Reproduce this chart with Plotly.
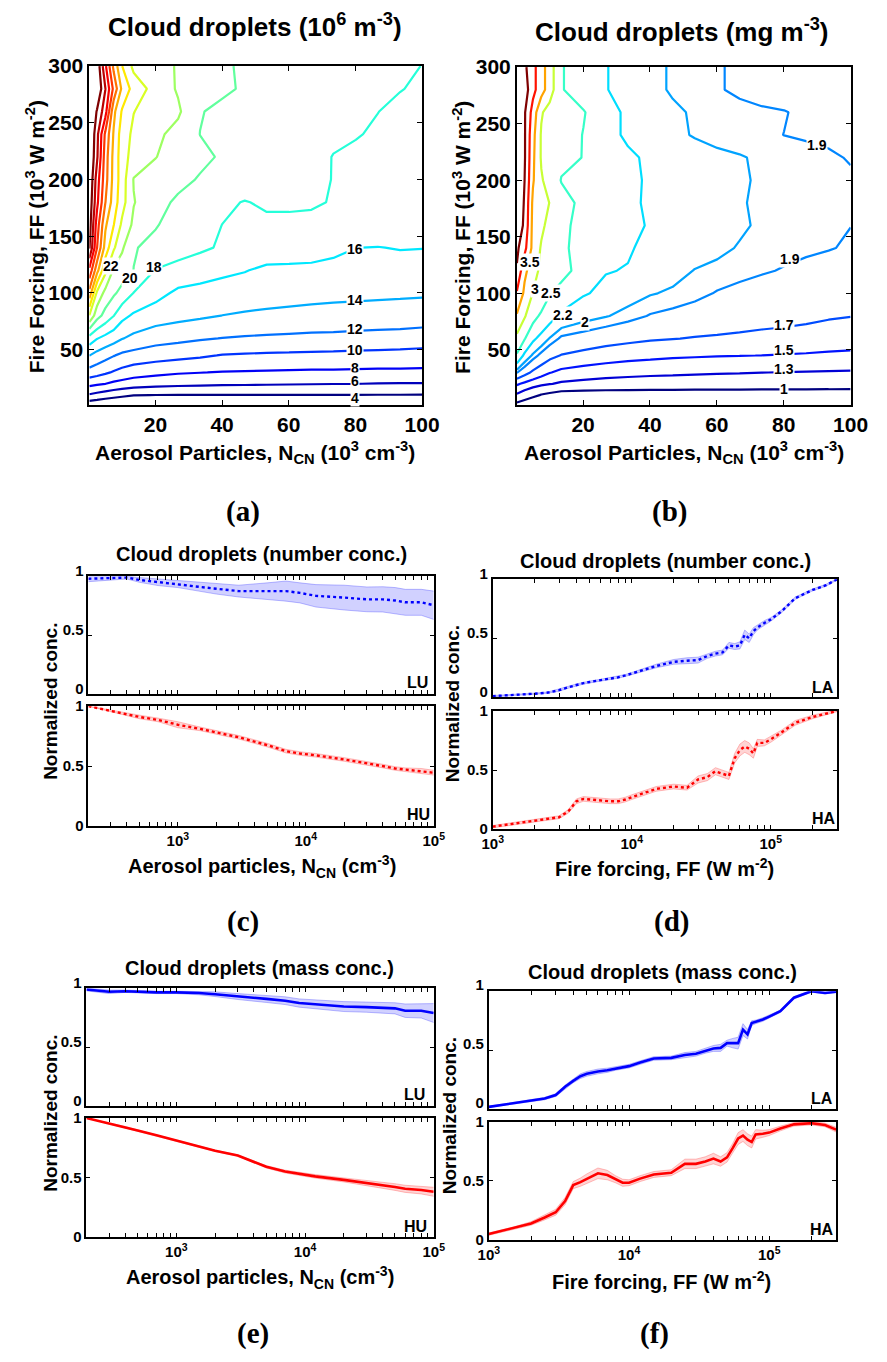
import plotly.graph_objects as go

W, H = 887, 1362

# ---------------- data: contour grids (x: N_CN in 10^3 cm^-3, y: FF in 10^3 W m^-2) ----------------
X_CN = [0.2, 2.5, 5, 7.5, 10, 13.5, 20.1, 26.8, 33.4, 40.1, 46.8, 53.4, 60.1, 66.8, 73.4, 80.1, 86.7, 93.4, 100]
Y_FF = [1, 10, 20, 30, 45, 60, 80, 100, 120, 140, 160, 180, 200, 220, 240, 260, 280, 300]

Z_NUM = [
    [2.6, 2.4, 2.2, 2.0, 1.9, 1.8, 1.8, 1.8, 1.8, 1.8, 1.8, 1.8, 1.8, 1.8, 1.8, 1.8, 1.8, 1.8, 1.8],
    [5.8, 5.4, 5.0, 4.7, 4.4, 4.05, 3.98, 3.97, 3.97, 3.96, 3.96, 3.96, 3.95, 3.95, 3.95, 3.95, 3.94, 3.94, 3.93],
    [8.6, 8.3, 8.02, 7.6, 7.3, 7.0, 6.7, 6.5, 6.4, 6.3, 6.25, 6.2, 6.15, 6.1, 6.05, 6.02, 5.95, 5.9, 5.9],
    [11.2, 10.8, 10.3, 9.8, 9.4, 8.9, 8.5, 8.2, 8.05, 7.9, 7.85, 7.8, 7.75, 7.7, 7.7, 7.65, 7.6, 7.6, 7.55],
    [14.05, 13.3, 12.7, 12.1, 11.6, 11.3, 10.9, 10.6, 10.3, 9.9, 9.8, 9.7, 9.65, 9.6, 9.55, 9.5, 9.45, 9.4, 9.35],
    [17.2, 16.1, 15.4, 14.8, 14.1, 13.5, 12.8, 12.5, 12.2, 11.95, 11.8, 11.7, 11.6, 11.5, 11.45, 11.3, 11.2, 11.1, 10.9],
    [23.9, 20.8, 19.3, 18.05, 16.6, 15.7, 15.0, 14.6, 14.3, 13.98, 13.8, 13.7, 13.6, 13.5, 13.45, 13.4, 13.35, 13.3, 13.2],
    [29.3, 23.6, 21.4, 20.3, 19.4, 17.95, 16.7, 15.6, 15.3, 15.0, 14.9, 14.7, 14.6, 14.5, 14.4, 14.35, 14.3, 14.25, 14.2],
    [33.5, 28.7, 24.5, 21.7, 21.0, 19.98, 17.9, 17.4, 17.0, 16.5, 16.1, 15.6, 15.6, 15.6, 15.4, 15.3, 15.2, 15.2, 15.1],
    [38.2, 32.05, 27.2, 24.3, 22.3, 20.1, 19.6, 18.8, 18.3, 17.8, 17.5, 17.2, 17.0, 16.8, 16.5, 16.02, 15.95, 16.1, 16.05],
    [39.0, 33.0, 28.3, 26.05, 23.6, 21.6, 20.1, 19.4, 18.7, 17.98, 17.6, 17.6, 17.6, 17.6, 17.5, 17.4, 17.3, 17.2, 17.1],
    [39.5, 34.5, 30.05, 27.0, 24.8, 22.1, 20.6, 19.7, 19.0, 18.4, 17.9, 18.3, 18.3, 18.2, 17.9, 17.7, 17.5, 17.35, 17.2],
    [40.0, 35.0, 30.8, 27.3, 25.0, 21.9, 21.3, 20.5, 19.85, 19.6, 19.3, 19.0, 18.7, 18.4, 17.95, 17.7, 17.5, 17.3, 17.1],
    [40.3, 36.3, 31.0, 27.4, 24.9, 23.2, 22.05, 21.2, 20.4, 19.8, 19.4, 19.1, 18.8, 18.5, 17.95, 17.7, 17.5, 17.3, 17.1],
    [40.5, 36.6, 31.6, 27.8, 25.0, 23.6, 22.4, 21.4, 19.98, 19.6, 19.3, 19.0, 18.7, 18.5, 18.3, 18.1, 17.8, 17.5, 17.3],
    [40.7, 37.8, 34.8, 28.5, 25.8, 24.05, 23.0, 22.3, 20.1, 19.6, 19.3, 19.0, 18.8, 18.6, 18.4, 18.2, 18.02, 17.7, 17.5],
    [41.5, 40.0, 36.05, 31.5, 27.6, 25.2, 23.2, 21.8, 21.0, 20.3, 19.8, 19.4, 19.1, 18.8, 18.6, 18.4, 18.2, 18.05, 17.8],
    [42.0, 39.5, 34.4, 29.5, 26.05, 23.5, 22.7, 21.85, 21.0, 20.2, 19.8, 19.5, 19.3, 19.1, 18.9, 18.7, 18.5, 18.25, 17.98],
]

Z_MASS = [
    [0.9, 0.8, 0.7, 0.65, 0.6, 0.55, 0.55, 0.55, 0.55, 0.55, 0.55, 0.55, 0.55, 0.55, 0.55, 0.55, 0.55, 0.55, 0.55],
    [1.27, 1.18, 1.08, 0.98, 0.93, 0.86, 0.84, 0.835, 0.83, 0.83, 0.83, 0.825, 0.825, 0.82, 0.82, 0.82, 0.815, 0.815, 0.81],
    [1.53, 1.46, 1.4, 1.35, 1.31, 1.27, 1.24, 1.22, 1.21, 1.2, 1.2, 1.19, 1.19, 1.185, 1.18, 1.18, 1.175, 1.17, 1.165],
    [1.91, 1.78, 1.66, 1.58, 1.51, 1.45, 1.41, 1.38, 1.36, 1.345, 1.335, 1.325, 1.315, 1.31, 1.302, 1.295, 1.29, 1.285, 1.28],
    [2.45, 2.14, 1.97, 1.85, 1.76, 1.69, 1.64, 1.6, 1.57, 1.55, 1.53, 1.52, 1.51, 1.505, 1.498, 1.49, 1.48, 1.47, 1.46],
    [2.88, 2.52, 2.25, 2.12, 1.99, 1.87, 1.83, 1.78, 1.75, 1.72, 1.705, 1.69, 1.68, 1.67, 1.66, 1.65, 1.63, 1.6, 1.59],
    [3.45, 3.05, 2.62, 2.44, 2.31, 2.15, 2.06, 2.01, 1.95, 1.89, 1.86, 1.83, 1.8, 1.78, 1.76, 1.75, 1.74, 1.72, 1.705],
    [3.95, 3.4, 2.98, 2.75, 2.52, 2.4, 2.22, 2.15, 2.07, 2.01, 1.98, 1.94, 1.89, 1.86, 1.83, 1.8, 1.79, 1.78, 1.77],
    [4.45, 3.6, 3.25, 2.85, 2.7, 2.6, 2.38, 2.21, 2.19, 2.1, 2.05, 1.995, 1.97, 1.94, 1.915, 1.89, 1.87, 1.86, 1.85],
    [4.6, 4.15, 3.35, 2.95, 2.8, 2.55, 2.4, 2.3, 2.22, 2.15, 2.1, 2.06, 2.03, 1.99, 1.96, 1.94, 1.92, 1.905, 1.89],
    [4.85, 4.4, 3.35, 3.1, 2.85, 2.55, 2.43, 2.33, 2.26, 2.18, 2.12, 2.08, 2.05, 2.02, 1.98, 1.95, 1.93, 1.92, 1.901],
    [4.9, 4.45, 3.4, 3.18, 2.99, 2.65, 2.4, 2.3, 2.24, 2.17, 2.12, 2.08, 2.05, 2.01, 1.98, 1.96, 1.95, 1.94, 1.93],
    [4.85, 4.5, 3.55, 3.05, 2.8, 2.48, 2.4, 2.32, 2.25, 2.17, 2.12, 2.08, 2.05, 2.02, 1.98, 1.96, 1.94, 1.93, 1.92],
    [4.85, 4.55, 3.6, 2.95, 2.8, 2.6, 2.49, 2.35, 2.25, 2.15, 2.1, 2.06, 2.03, 2.01, 1.98, 1.96, 1.94, 1.92, 1.89],
    [4.9, 4.55, 3.65, 2.95, 2.8, 2.65, 2.49, 2.3, 2.15, 2.08, 2.03, 1.99, 1.96, 1.94, 1.92, 1.899, 1.885, 1.87, 1.86],
    [4.9, 4.55, 3.8, 3.05, 2.8, 2.65, 2.52, 2.3, 2.15, 2.08, 2.03, 1.98, 1.95, 1.93, 1.915, 1.905, 1.88, 1.86, 1.85],
    [5.1, 4.75, 4.15, 3.7, 3.25, 2.52, 2.35, 2.21, 2.12, 2.05, 1.98, 1.94, 1.91, 1.88, 1.86, 1.85, 1.84, 1.83, 1.82],
    [5.0, 4.6, 4.15, 3.7, 3.25, 2.52, 2.35, 2.21, 2.12, 2.05, 1.98, 1.94, 1.91, 1.88, 1.86, 1.85, 1.84, 1.83, 1.82],
]

LEVELS_NUM = [4, 6, 8, 10, 12, 14, 16, 18, 20, 22, 24, 26, 28, 30, 32, 34, 36, 38]
LEVELS_MASS = [1.0, 1.3, 1.5, 1.7, 1.9, 2.0, 2.2, 2.5, 3.0, 3.5, 4.0, 4.5]

LABELS_NUM = [("22", 6.7, 124), ("20", 12.5, 113), ("18", 19.5, 123), ("16", 80, 139),
              ("14", 80, 94), ("12", 80, 68), ("10", 80, 50), ("8", 80, 34), ("6", 80, 22), ("4", 80, 7)]
LABELS_MASS = [("3.5", 4, 128), ("3", 5.5, 104), ("2.5", 10.5, 100), ("2.2", 14, 81), ("2", 20.6, 75),
               ("1.9", 82, 130), ("1.9", 90, 231), ("1.7", 80, 72), ("1.5", 80, 50), ("1.3", 80, 33), ("1", 80, 15)]

# ---------------- data: normalized curves ----------------
NCN = [200, 300, 400, 500, 700, 1000, 1500, 2000, 3000, 5000, 7000, 9000, 12000, 20000, 30000,
       40000, 50000, 60000, 80000, 100000]
FF = [1000, 1500, 2000, 2500, 3000, 3500, 4000, 4500, 5000, 6000, 7000, 8000, 9000, 10000, 12000,
      15000, 20000, 25000, 30000, 35000, 40000, 45000, 50000, 55000, 60000, 65000, 70000, 75000,
      80000, 90000, 100000, 120000, 150000, 200000, 250000, 300000]

NUM_LU = [0.98, 0.985, 0.99, 0.97, 0.95, 0.935, 0.91, 0.895, 0.875, 0.875, 0.875, 0.86, 0.835, 0.82,
          0.805, 0.805, 0.795, 0.78, 0.78, 0.755]
NUM_LU_SD = [0.025, 0.015, 0.012, 0.02, 0.028, 0.03, 0.04, 0.045, 0.05, 0.07, 0.085, 0.085, 0.095,
             0.105, 0.105, 0.107, 0.11, 0.11, 0.11, 0.12]
NUM_HU = [1.0, 0.96, 0.935, 0.91, 0.885, 0.845, 0.81, 0.78, 0.74, 0.675, 0.625, 0.605, 0.59, 0.555,
          0.525, 0.5, 0.48, 0.47, 0.46, 0.445]
NUM_HU_SD = [0.0, 0.005, 0.01, 0.015, 0.015, 0.025, 0.015, 0.015, 0.015, 0.015, 0.015, 0.015, 0.015,
             0.015, 0.015, 0.015, 0.015, 0.015, 0.02, 0.02]

NUM_LA = [0.01, 0.02, 0.03, 0.04, 0.06, 0.085, 0.105, 0.12, 0.13, 0.145, 0.16, 0.17, 0.185, 0.2, 0.23,
          0.265, 0.3, 0.31, 0.315, 0.35, 0.37, 0.38, 0.44, 0.43, 0.44, 0.53, 0.5, 0.56, 0.59, 0.63, 0.66,
          0.73, 0.84, 0.91, 0.95, 1.0]
NUM_LA_SD = [0.005, 0.005, 0.005, 0.005, 0.008, 0.008, 0.008, 0.008, 0.008, 0.008, 0.008, 0.008, 0.008,
             0.01, 0.012, 0.015, 0.02, 0.025, 0.025, 0.02, 0.02, 0.02, 0.025, 0.025, 0.03, 0.04, 0.035,
             0.03, 0.02, 0.02, 0.015, 0.012, 0.01, 0.008, 0.008, 0.005]
NUM_HA = [0.02, 0.05, 0.07, 0.085, 0.1, 0.15, 0.235, 0.255, 0.25, 0.245, 0.235, 0.235, 0.25, 0.27, 0.3,
          0.34, 0.36, 0.35, 0.42, 0.44, 0.49, 0.47, 0.45, 0.6, 0.67, 0.7, 0.68, 0.64, 0.73, 0.73, 0.76,
          0.82, 0.9, 0.95, 0.98, 1.0]
NUM_HA_SD = [0.01, 0.01, 0.01, 0.01, 0.012, 0.015, 0.02, 0.02, 0.02, 0.02, 0.02, 0.02, 0.02, 0.02, 0.02,
             0.02, 0.02, 0.02, 0.03, 0.03, 0.03, 0.03, 0.03, 0.04, 0.05, 0.05, 0.05, 0.04, 0.03, 0.025,
             0.025, 0.02, 0.02, 0.015, 0.01, 0.005]

MASS_LU = [0.99, 0.97, 0.975, 0.97, 0.965, 0.965, 0.96, 0.95, 0.93, 0.91, 0.895, 0.875, 0.865, 0.845,
           0.84, 0.835, 0.83, 0.81, 0.81, 0.79]
MASS_LU_SD = [0.012, 0.015, 0.01, 0.01, 0.01, 0.01, 0.015, 0.02, 0.025, 0.03, 0.033, 0.035, 0.037, 0.042,
              0.043, 0.045, 0.047, 0.057, 0.062, 0.08]
MASS_HU = [1.0, 0.955, 0.925, 0.895, 0.855, 0.81, 0.76, 0.725, 0.685, 0.59, 0.55, 0.53, 0.51, 0.48,
           0.455, 0.435, 0.42, 0.405, 0.395, 0.38]
MASS_HU_SD = [0.0, 0.005, 0.005, 0.005, 0.005, 0.005, 0.005, 0.005, 0.005, 0.01, 0.012, 0.015, 0.015,
              0.017, 0.022, 0.027, 0.028, 0.03, 0.033, 0.038]

MASS_LA = [0.02, 0.05, 0.07, 0.09, 0.12, 0.19, 0.24, 0.28, 0.3, 0.32, 0.33, 0.345, 0.355, 0.365, 0.395,
           0.43, 0.435, 0.46, 0.47, 0.495, 0.515, 0.52, 0.56, 0.56, 0.56, 0.675, 0.635, 0.73, 0.74, 0.76,
           0.785, 0.83, 0.945, 1.0, 0.985, 0.995]
MASS_LA_SD = [0.005, 0.008, 0.01, 0.01, 0.012, 0.015, 0.015, 0.02, 0.02, 0.02, 0.018, 0.015, 0.015, 0.015,
              0.015, 0.015, 0.015, 0.02, 0.02, 0.02, 0.025, 0.03, 0.025, 0.04, 0.05, 0.05, 0.04, 0.02,
              0.015, 0.015, 0.012, 0.01, 0.01, 0.008, 0.008, 0.005]
MASS_HA = [0.05, 0.1, 0.14, 0.19, 0.235, 0.33, 0.465, 0.49, 0.52, 0.565, 0.55, 0.515, 0.485, 0.485, 0.52,
           0.555, 0.57, 0.645, 0.645, 0.665, 0.69, 0.665, 0.7, 0.78, 0.86, 0.885, 0.85, 0.83, 0.895,
           0.9, 0.91, 0.945, 0.98, 0.99, 0.975, 0.935]
MASS_HA_SD = [0.01, 0.01, 0.015, 0.02, 0.025, 0.03, 0.03, 0.035, 0.04, 0.045, 0.04, 0.03, 0.03, 0.025,
              0.025, 0.025, 0.025, 0.04, 0.04, 0.04, 0.045, 0.04, 0.04, 0.04, 0.05, 0.05, 0.05, 0.05,
              0.04, 0.03, 0.025, 0.02, 0.015, 0.015, 0.015, 0.02]

# ---------------- helpers ----------------
FONT = "Liberation Sans, Arial, sans-serif"


def jet(t):
    t = max(0.0, min(1.0, t))
    r = min(1.0, max(0.0, 1.5 - abs(4 * t - 3)))
    g = min(1.0, max(0.0, 1.5 - abs(4 * t - 2)))
    b = min(1.0, max(0.0, 1.5 - abs(4 * t - 1)))
    return f"rgb({int(r * 255)},{int(g * 255)},{int(b * 255)})"


def dx(l, r):
    return [l / W, r / W]


def dy(t, b):
    return [1 - b / H, 1 - t / H]


fig = go.Figure()

# contour panels
for lv in LEVELS_NUM:
    fig.add_trace(go.Contour(
        x=X_CN, y=Y_FF, z=Z_NUM, xaxis="x", yaxis="y", autocontour=False,
        contours=dict(start=lv, end=lv, size=1, coloring="none"),
        line=dict(color=jet((lv - LEVELS_NUM[0]) / (LEVELS_NUM[-1] - LEVELS_NUM[0])), width=2.2, smoothing=0),
        showscale=False, hoverinfo="skip"))
for lv in LEVELS_MASS:
    fig.add_trace(go.Contour(
        x=X_CN, y=Y_FF, z=Z_MASS, xaxis="x2", yaxis="y2", autocontour=False,
        contours=dict(start=lv, end=lv, size=1, coloring="none"),
        line=dict(color=jet((lv - LEVELS_MASS[0]) / (LEVELS_MASS[-1] - LEVELS_MASS[0])), width=2.2, smoothing=0),
        showscale=False, hoverinfo="skip"))


def add_series(xs, mean, sd, color, band, edge, dash, xa, ya):
    lo = [m - s for m, s in zip(mean, sd)]
    hi = [m + s for m, s in zip(mean, sd)]
    fig.add_trace(go.Scatter(x=xs, y=lo, mode="lines", line=dict(width=0.8, color=edge),
                             xaxis=xa, yaxis=ya, showlegend=False, hoverinfo="skip"))
    fig.add_trace(go.Scatter(x=xs, y=hi, mode="lines", line=dict(width=0.8, color=edge),
                             fill="tonexty", fillcolor=band,
                             xaxis=xa, yaxis=ya, showlegend=False, hoverinfo="skip"))
    fig.add_trace(go.Scatter(x=xs, y=mean, mode="lines",
                             line=dict(color=color, width=2.6 if dash == "solid" else 2.4, dash=dash),
                             xaxis=xa, yaxis=ya, showlegend=False, hoverinfo="skip"))


BLUE, BLUE_BAND, BLUE_EDGE = "rgb(0,0,255)", "rgba(70,70,255,0.25)", "rgba(70,70,255,0.45)"
RED, RED_BAND, RED_EDGE = "rgb(255,0,0)", "rgba(255,60,60,0.22)", "rgba(255,60,60,0.4)"

add_series(NCN, NUM_LU, NUM_LU_SD, BLUE, BLUE_BAND, BLUE_EDGE, "dot", "x3", "y3")
add_series(NCN, NUM_HU, NUM_HU_SD, RED, RED_BAND, RED_EDGE, "dot", "x4", "y4")
add_series(FF, NUM_LA, NUM_LA_SD, BLUE, BLUE_BAND, BLUE_EDGE, "dot", "x5", "y5")
add_series(FF, NUM_HA, NUM_HA_SD, RED, RED_BAND, RED_EDGE, "dot", "x6", "y6")
add_series(NCN, MASS_LU, MASS_LU_SD, BLUE, BLUE_BAND, BLUE_EDGE, "solid", "x7", "y7")
add_series(NCN, MASS_HU, MASS_HU_SD, RED, RED_BAND, RED_EDGE, "solid", "x8", "y8")
add_series(FF, MASS_LA, MASS_LA_SD, BLUE, BLUE_BAND, BLUE_EDGE, "solid", "x9", "y9")
add_series(FF, MASS_HA, MASS_HA_SD, RED, RED_BAND, RED_EDGE, "solid", "x10", "y10")

# ---------------- axes ----------------
base = dict(showline=True, linecolor="black", linewidth=1.8, mirror="ticks", ticks="inside",
            ticklen=5, tickwidth=1.4, tickcolor="black", showgrid=False, zeroline=False)
big_tick = dict(family=FONT, size=21, color="black", weight="bold")
small_tick = dict(family=FONT, size=15, color="black", weight="bold")


def log_ticks(lo_exp, hi_val):
    vals, txt = [], []
    for e in range(lo_exp, 6):
        for m in range(1, 10):
            v = m * 10 ** e
            if v > hi_val * 1.001:
                break
            vals.append(v)
            txt.append(f"10<sup>{e}</sup>" if m == 1 else "")
    return vals, txt


ncn_vals, ncn_txt = log_ticks(2, 100000)
ff_vals, ff_txt = log_ticks(3, 300000)

layout_axes = {}
layout_axes["xaxis"] = dict(base, domain=dx(81, 425), range=[0.2, 100], tickvals=[20, 40, 60, 80, 100],
                            anchor="y", tickfont=big_tick)
layout_axes["yaxis"] = dict(base, domain=dy(52, 397), range=[1, 300], tickvals=[50, 100, 150, 200, 250, 300],
                            anchor="x", tickfont=big_tick)
layout_axes["xaxis2"] = dict(base, domain=dx(523, 868), range=[0.2, 100], tickvals=[20, 40, 60, 80, 100],
                             anchor="y2", tickfont=big_tick)
layout_axes["yaxis2"] = dict(base, domain=dy(53, 397), range=[1, 300], tickvals=[50, 100, 150, 200, 250, 300],
                             anchor="x2", tickfont=big_tick)

line_panels = [
    (3, (80, 437), (571, 691), ncn_vals, ncn_txt, [2.30103, 5], False),
    (4, (80, 437), (703, 825), ncn_vals, ncn_txt, [2.30103, 5], True),
    (5, (498, 854), (574, 694), ff_vals, ff_txt, [3, 5.4771], False),
    (6, (498, 854), (708, 828), ff_vals, ff_txt, [3, 5.4771], True),
    (7, (78, 437), (990, 1110), ncn_vals, ncn_txt, [2.30103, 5], False),
    (8, (78, 437), (1122, 1243), ncn_vals, ncn_txt, [2.30103, 5], True),
    (9, (494, 853), (993, 1113), ff_vals, ff_txt, [3, 5.4771], False),
    (10, (494, 853), (1126, 1246), ff_vals, ff_txt, [3, 5.4771], True),
]
for i, (xl, xr), (yt, yb), tv, tt, rg, showx in line_panels:
    layout_axes[f"xaxis{i}"] = dict(base, type="log", domain=dx(xl, xr), range=rg, tickvals=tv, ticktext=tt,
                                    anchor=f"y{i}", showticklabels=showx, tickfont=small_tick, ticklen=4)
    # upper panels: labels nudged up so their "0" does not collide with the lower panel's "1"
    layout_axes[f"yaxis{i}"] = dict(base, domain=dy(yt, yb), range=[0, 1], tickvals=[0, 0.5, 1],
                                    ticktext=["0", "0.5", "1"], anchor=f"x{i}", tickfont=small_tick, ticklen=4,
                                    ticklabelshift=(0 if showx else -6))

# ---------------- annotations ----------------
ann = []


def text(s, x, y, size, angle=0, family=FONT, xanchor="center"):
    ann.append(dict(text=s, x=x / W, y=1 - y / H, xref="paper", yref="paper", showarrow=False,
                    textangle=angle, xanchor=xanchor, yanchor="middle",
                    font=dict(family=family, size=size, color="black", weight="bold")))


text("Cloud droplets (10<sup>6</sup> m<sup>-3</sup>)", 252, 11, 26)
text("Cloud droplets (mg m<sup>-3</sup>)", 694, 16, 26)
text("Fire Forcing, FF (10<sup>3</sup> W m<sup>-2</sup>)", 25, 226, 21, -90)
text("Fire Forcing, FF (10<sup>3</sup> W m<sup>-2</sup>)", 466, 226, 21, -90)
text("Aerosol Particles, N<sub>CN</sub> (10<sup>3</sup> cm<sup>-3</sup>)", 252, 445, 21)
text("Aerosol Particles, N<sub>CN</sub> (10<sup>3</sup> cm<sup>-3</sup>)", 696, 445, 21)

text("Cloud droplets (number conc.)", 259, 548, 20)
text("Cloud droplets (number conc.)", 677, 555, 20)
text("Cloud droplets (mass conc.)", 257, 969, 20)
text("Cloud droplets (mass conc.)", 674, 973, 20)

text("Normalized conc.", 41, 698, 19, -90)
text("Normalized conc.", 456, 701, 19, -90)
text("Normalized conc.", 40, 1117, 19, -90)
text("Normalized conc.", 453, 1120, 19, -90)

text("Aerosol particles, N<sub>CN</sub> (cm<sup>-3</sup>)", 259, 866, 20)
text("Fire forcing, FF (W m<sup>-2</sup>)", 676, 867, 20)
text("Aerosol particles, N<sub>CN</sub> (cm<sup>-3</sup>)", 257, 1284, 20)
text("Fire forcing, FF (W m<sup>-2</sup>)", 673, 1287, 20)

for s, x, y in [("LU", 420, 679), ("HU", 421, 813), ("LA", 839, 684), ("HA", 840, 817),
                ("LU", 417, 1098), ("HU", 418, 1232), ("LA", 838, 1102), ("HA", 838, 1235)]:
    text(s, x, y, 16)

SERIF = "Liberation Serif, Times New Roman, serif"
for s, x, y in [("(a)", 240, 505), ("(b)", 681, 505), ("(c)", 240, 922), ("(d)", 683, 922),
                ("(e)", 250, 1341), ("(f)", 665, 1341)]:
    text(s, x, y, 29, family=SERIF)

for s, x, y in LABELS_NUM:
    ann.append(dict(text=s, x=x, y=y, xref="x", yref="y", showarrow=False, bgcolor="white", borderpad=0,
                    font=dict(family=FONT, size=14, color="black", weight="bold")))
for s, x, y in LABELS_MASS:
    ann.append(dict(text=s, x=x, y=y, xref="x2", yref="y2", showarrow=False, bgcolor="white", borderpad=0,
                    font=dict(family=FONT, size=14, color="black", weight="bold")))

fig.update_layout(
    width=W, height=H, margin=dict(l=0, r=0, t=0, b=0, pad=0),
    paper_bgcolor="white", plot_bgcolor="white", showlegend=False,
    font=dict(family=FONT, color="black"),
    annotations=ann, **layout_axes)

fig.write_html("out.html")
